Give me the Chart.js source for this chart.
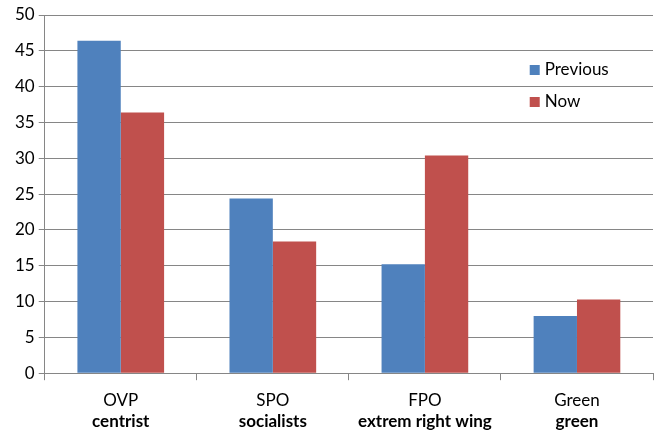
<!DOCTYPE html>
<html>
<head>
<meta charset="utf-8">
<script src="https://cdn.jsdelivr.net/npm/chart.js@4"></script>
<style>
    html, body { margin: 0; padding: 0; background: #fff; }
    #wrap { width: 667px; height: 432px; }
</style>
</head>
<body>
<div id="wrap"><canvas id="chart"></canvas></div>
<script>
// Chart data
const parties = ["OVP", "SPO", "FPO", "Green"];
const partyTypes = ["centrist", "socialists", "extrem right wing", "green"];
const previousVotes = [46.4, 24.4, 15.2, 8.0];
const nowVotes = [36.4, 18.4, 30.4, 10.3];
const yTicks = [0, 5, 10, 15, 20, 25, 30, 35, 40, 45, 50];

const gridColor = "#868686";
const fontFamily = "Lato, 'DejaVu Sans', sans-serif";

// Legend drawn inside the plot area, like the original
const insideLegend = {
    id: "insideLegend",
    afterDraw(chart) {
        const ctx = chart.ctx;
        const x = chart.chartArea.left + 485;
        let y = chart.chartArea.top + 55;
        ctx.save();
        ctx.font = "17px " + fontFamily;
        ctx.textBaseline = "middle";
        chart.data.datasets.forEach((ds) => {
            ctx.fillStyle = ds.backgroundColor;
            ctx.fillRect(x, y - 5, 10, 10);
            ctx.fillStyle = "#000";
            ctx.fillText(ds.label, x + 15, y);
            y += 32;
        });
        ctx.restore();
    }
};

const ctx = document.getElementById("chart").getContext("2d");
const chart = new Chart(ctx, {
    type: "bar",
    data: {
        labels: parties,
        datasets: [{
                label: "Previous",
                data: previousVotes,
                backgroundColor: "#4f81bd",
                categoryPercentage: 0.57,
                barPercentage: 1.0,
            },
            {
                label: "Now",
                data: nowVotes,
                backgroundColor: "#c0504d",
                categoryPercentage: 0.57,
                barPercentage: 1.0,
            },
        ],
    },
    options: {
        responsive: true,
        maintainAspectRatio: false,
        animation: false,
        layout: {
            padding: { left: 11, right: 14, top: 15, bottom: 0 },
        },
        plugins: {
            legend: { display: false },
            tooltip: { enabled: false },
        },
        scales: {
            x: {
                type: "category",
                position: "bottom",
                grid: {
                    display: true,
                    offset: true,
                    drawOnChartArea: false,
                    color: gridColor,
                    tickLength: 7,
                },
                border: { display: true, color: gridColor },
                ticks: {
                    color: "#000",
                    font: { family: fontFamily, size: 17 },
                    padding: 10,
                },
                // pull the bold second line closer
                afterFit(scale) {
                    scale.height -= 9;
                },
            },
            // second line of the labels, in bold
            x2: {
                type: "category",
                position: "bottom",
                labels: partyTypes,
                offset: true,
                grid: { display: false, drawTicks: false },
                border: { display: false },
                ticks: {
                    color: "#000",
                    font: { family: fontFamily, size: 17, weight: "bold" },
                    padding: 0,
                },
            },
            y: {
                min: 0,
                max: 50,
                afterBuildTicks(scale) {
                    scale.ticks = yTicks.map((v) => ({ value: v }));
                },
                grid: {
                    color: gridColor,
                    tickLength: 6,
                },
                border: { display: true, color: gridColor },
                ticks: {
                    color: "#000",
                    font: { family: fontFamily, size: 17 },
                    padding: 4,
                },
            },
        },
    },
    plugins: [insideLegend],
});
</script>
</body>
</html>
